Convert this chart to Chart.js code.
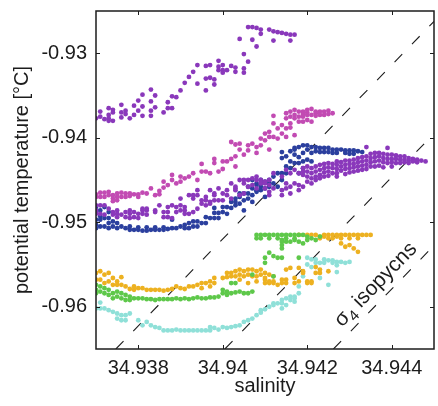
<!DOCTYPE html>
<html>
<head>
<meta charset="utf-8">
<script src="https://cdn.jsdelivr.net/npm/chart.js@4.4.0/dist/chart.umd.min.js"></script>
<style>
	html, body { margin: 0; padding: 0; background: #fff; }
	canvas { display: block; }
</style>
</head>
<body>
<canvas id="ts" width="438" height="406"></canvas>
<script>
// axis ticks
const xTicks = [34.938, 34.940, 34.942, 34.944];
const xTickLabels = ['34.938', '34.94', '34.942', '34.944'];
const yTicks = [-0.93, -0.94, -0.95, -0.96];
const yTickLabels = ['-0.93', '-0.94', '-0.95', '-0.96'];

// profiles: [salinity, [potential temperatures]]
const purpleUpper = [
	[34.9370, [-0.9377]], [34.9371, [-0.9369, -0.9375]], [34.9372, [-0.9378]],
	[34.9373, [-0.9365, -0.9373, -0.9377, -0.9380]], [34.9374, [-0.9367, -0.9370, -0.9380]],
	[34.9376, [-0.9361, -0.9370, -0.9376]], [34.9377, [-0.9368, -0.9372]], [34.9378, [-0.9377]],
	[34.9379, [-0.9362, -0.9373]], [34.9380, [-0.9356, -0.9368]], [34.9381, [-0.9349, -0.9363, -0.9374]],
	[34.9383, [-0.9343, -0.9357, -0.9368, -0.9374]], [34.9384, [-0.9350, -0.9364]], [34.9386, [-0.9370]],
	[34.9387, [-0.9358, -0.9365]], [34.9388, [-0.9351, -0.9365]], [34.9389, [-0.9352]], [34.9390, [-0.9344]],
	[34.9391, [-0.9335]], [34.9392, [-0.9328]], [34.9393, [-0.9322]], [34.9394, [-0.9314, -0.9336]],
	[34.9396, [-0.9315, -0.9330, -0.9344]], [34.9397, [-0.9314, -0.9329]], [34.9398, [-0.9331, -0.9337]],
	[34.9399, [-0.9309, -0.9316, -0.9320]], [34.9400, [-0.9314, -0.9320, -0.9323]], [34.9401, [-0.9320]],
	[34.9402, [-0.9315]], [34.9403, [-0.9317, -0.9322]], [34.9404, [-0.9283]],
	[34.9405, [-0.9301, -0.9318, -0.9323]], [34.9406, [-0.9269, -0.9310]], [34.9407, [-0.9269, -0.9284]],
	[34.9408, [-0.9270, -0.9292]], [34.9409, [-0.9272, -0.9277]], [34.9411, [-0.9272]],
	[34.9412, [-0.9274, -0.9285]], [34.9413, [-0.9275]], [34.9414, [-0.9276]], [34.9415, [-0.9277]],
	[34.9416, [-0.9278, -0.9285]], [34.9417, [-0.9278]]
];

const purpleBand = [
	[34.9370, [-0.9480, -0.9486, -0.9490]], [34.9371, [-0.9480, -0.9490]], [34.9372, [-0.9480, -0.9491]],
	[34.9373, [-0.9484]], [34.9374, [-0.9488, -0.9491]], [34.9375, [-0.9486, -0.9490, -0.9494]],
	[34.9376, [-0.9491]], [34.9377, [-0.9488, -0.9494]], [34.9378, [-0.9486, -0.9490, -0.9495]],
	[34.9379, [-0.9488, -0.9494]], [34.9380, [-0.9490, -0.9495]], [34.9381, [-0.9484, -0.9486, -0.9490]],
	[34.9382, [-0.9484, -0.9486, -0.9491]], [34.9384, [-0.9486, -0.9488]], [34.9385, [-0.9480]],
	[34.9386, [-0.9488, -0.9494]], [34.9387, [-0.9482, -0.9488, -0.9494]], [34.9388, [-0.9480, -0.9495]],
	[34.9389, [-0.9482, -0.9488]], [34.9390, [-0.9472, -0.9480, -0.9486]], [34.9391, [-0.9482, -0.9486, -0.9490]],
	[34.9392, [-0.9468, -0.9490]], [34.9393, [-0.9468, -0.9472, -0.9488]], [34.9394, [-0.9462, -0.9468, -0.9484]],
	[34.9395, [-0.9474, -0.9478]], [34.9396, [-0.9470, -0.9474, -0.9480]], [34.9397, [-0.9462, -0.9476, -0.9478]],
	[34.9398, [-0.9466, -0.9468, -0.9474]], [34.9399, [-0.9460, -0.9474]], [34.9400, [-0.9466, -0.9474]],
	[34.9401, [-0.9462, -0.9468]], [34.9402, [-0.9454, -0.9472]], [34.9403, [-0.9458, -0.9460, -0.9462]],
	[34.9404, [-0.9450, -0.9468]], [34.9405, [-0.9450, -0.9454, -0.9466]], [34.9406, [-0.9450, -0.9458]],
	[34.9407, [-0.9448, -0.9456]], [34.9408, [-0.9446, -0.9450, -0.9460]], [34.9409, [-0.9450, -0.9454]],
	[34.9410, [-0.9452, -0.9454, -0.9460]], [34.9411, [-0.9450, -0.9456, -0.9464, -0.9468]],
	[34.9412, [-0.9442, -0.9460]], [34.9414, [-0.9446, -0.9462, -0.9468]], [34.9415, [-0.9438, -0.9454, -0.9460]],
	[34.9416, [-0.9442, -0.9458, -0.9466]], [34.9417, [-0.9438, -0.9454]], [34.9418, [-0.9442, -0.9456, -0.9462]],
	[34.9419, [-0.9436, -0.9440, -0.9444, -0.9458]], [34.9420, [-0.9434, -0.9440, -0.9446, -0.9452]],
	[34.9421, [-0.9436, -0.9442, -0.9448, -0.9454]], [34.9422, [-0.9434, -0.9440, -0.9446, -0.9450]],
	[34.9423, [-0.9432, -0.9438, -0.9444, -0.9448]], [34.9424, [-0.9431, -0.9436, -0.9441, -0.9446]],
	[34.9425, [-0.9430, -0.9435, -0.9440, -0.9445]], [34.9426, [-0.9431, -0.9436, -0.9442]],
	[34.9427, [-0.9428, -0.9432, -0.9437, -0.9442, -0.9446]], [34.9428, [-0.9429, -0.9434, -0.9439]],
	[34.9429, [-0.9427, -0.9432, -0.9437, -0.9443]], [34.9430, [-0.9427, -0.9431, -0.9436, -0.9441]],
	[34.9431, [-0.9426, -0.9431, -0.9435, -0.9440]], [34.9432, [-0.9424, -0.9429, -0.9434, -0.9439]],
	[34.9433, [-0.9423, -0.9428, -0.9433, -0.9438]], [34.9434, [-0.9411, -0.9422, -0.9427, -0.9432, -0.9437]],
	[34.9435, [-0.9419, -0.9424, -0.9429, -0.9434]], [34.9436, [-0.9418, -0.9423, -0.9428, -0.9434]],
	[34.9437, [-0.9418, -0.9422, -0.9427, -0.9433]], [34.9438, [-0.9419, -0.9424, -0.9429, -0.9435]],
	[34.9439, [-0.9412, -0.9420, -0.9425, -0.9430]], [34.9440, [-0.9420, -0.9425, -0.9429, -0.9434]],
	[34.9441, [-0.9421, -0.9425, -0.9430]], [34.9442, [-0.9422, -0.9426, -0.9430]],
	[34.9443, [-0.9422, -0.9426, -0.9429]], [34.9444, [-0.9424, -0.9427, -0.9430]],
	[34.9445, [-0.9425, -0.9428]], [34.9446, [-0.9426, -0.9429]], [34.9447, [-0.9427]], [34.9448, [-0.9428]]
];

const pink = [
	[34.9370, [-0.9467, -0.9470]], [34.9371, [-0.9465, -0.9470]], [34.9372, [-0.9465, -0.9470]],
	[34.9373, [-0.9464, -0.9468]], [34.9374, [-0.9468, -0.9472, -0.9475]], [34.9375, [-0.9466, -0.9470, -0.9474]],
	[34.9376, [-0.9465, -0.9470]], [34.9377, [-0.9466, -0.9470]], [34.9378, [-0.9466, -0.9469]],
	[34.9379, [-0.9467]], [34.9380, [-0.9467, -0.9470]], [34.9381, [-0.9465]], [34.9382, [-0.9466]],
	[34.9383, [-0.9460]], [34.9384, [-0.9468]], [34.9385, [-0.9463, -0.9467]], [34.9386, [-0.9452, -0.9459]],
	[34.9387, [-0.9456]], [34.9388, [-0.9444, -0.9450]], [34.9389, [-0.9454]], [34.9390, [-0.9446, -0.9452]],
	[34.9391, [-0.9448]], [34.9392, [-0.9446]], [34.9393, [-0.9442]], [34.9394, [-0.9450]],
	[34.9395, [-0.9431, -0.9440]], [34.9396, [-0.9440]], [34.9397, [-0.9442]], [34.9398, [-0.9425, -0.9430]],
	[34.9399, [-0.9440]], [34.9400, [-0.9428, -0.9437]], [34.9401, [-0.9428]], [34.9402, [-0.9405, -0.9425]],
	[34.9403, [-0.9408, -0.9422, -0.9434]], [34.9404, [-0.9407, -0.9414]], [34.9405, [-0.9420]],
	[34.9406, [-0.9409, -0.9415]], [34.9407, [-0.9407]], [34.9408, [-0.9411, -0.9418]],
	[34.9409, [-0.9401, -0.9409]], [34.9410, [-0.9395, -0.9403]], [34.9411, [-0.9393, -0.9399, -0.9414]],
	[34.9412, [-0.9374, -0.9383, -0.9399]], [34.9413, [-0.9389, -0.9401]], [34.9414, [-0.9385, -0.9395]],
	[34.9415, [-0.9371, -0.9377, -0.9389, -0.9399]], [34.9416, [-0.9369, -0.9375, -0.9383, -0.9388]],
	[34.9417, [-0.9367, -0.9373, -0.9377, -0.9397]], [34.9418, [-0.9369, -0.9375, -0.9381]],
	[34.9419, [-0.9369, -0.9372, -0.9375, -0.9381]], [34.9420, [-0.9367, -0.9370, -0.9373, -0.9379]],
	[34.9421, [-0.9366, -0.9373, -0.9381]], [34.9422, [-0.9369, -0.9371, -0.9374]], [34.9423, [-0.9369, -0.9373]],
	[34.9424, [-0.9369, -0.9373]], [34.9425, [-0.9368, -0.9372]], [34.9426, [-0.9371]]
];

const blue = [
	[34.9370, [-0.9482, -0.9489, -0.9497, -0.9503, -0.9507]], [34.9371, [-0.9486, -0.9493, -0.9497, -0.9505]],
	[34.9372, [-0.9482, -0.9495, -0.9505]], [34.9373, [-0.9488, -0.9495, -0.9501, -0.9507]],
	[34.9374, [-0.9499, -0.9505]], [34.9375, [-0.9501, -0.9507]], [34.9376, [-0.9505]], [34.9377, [-0.9507]],
	[34.9378, [-0.9505, -0.9509]], [34.9379, [-0.9509]], [34.9380, [-0.9506, -0.9509]], [34.9381, [-0.9510]],
	[34.9382, [-0.9506, -0.9510]], [34.9383, [-0.9509]], [34.9384, [-0.9506, -0.9509]], [34.9385, [-0.9509]],
	[34.9386, [-0.9506, -0.9509]], [34.9387, [-0.9508]], [34.9388, [-0.9497, -0.9507]], [34.9389, [-0.9507]],
	[34.9390, [-0.9505]], [34.9391, [-0.9503, -0.9507]], [34.9392, [-0.9501, -0.9507]],
	[34.9393, [-0.9499, -0.9505]], [34.9394, [-0.9499, -0.9505]], [34.9395, [-0.9501]],
	[34.9396, [-0.9494, -0.9501]], [34.9397, [-0.9495]], [34.9398, [-0.9483, -0.9489, -0.9495]],
	[34.9399, [-0.9489, -0.9495]], [34.9400, [-0.9482, -0.9488]], [34.9401, [-0.9482, -0.9490]],
	[34.9402, [-0.9476, -0.9483]], [34.9403, [-0.9472, -0.9476, -0.9480]], [34.9404, [-0.9466, -0.9470, -0.9478]],
	[34.9405, [-0.9466, -0.9474, -0.9486]], [34.9406, [-0.9458, -0.9466, -0.9472]],
	[34.9407, [-0.9450, -0.9460, -0.9468, -0.9476]], [34.9408, [-0.9454, -0.9456, -0.9462, -0.9464]],
	[34.9409, [-0.9450, -0.9454, -0.9458, -0.9462]], [34.9410, [-0.9452, -0.9460, -0.9470]],
	[34.9411, [-0.9450, -0.9454, -0.9458]], [34.9412, [-0.9446, -0.9454]], [34.9413, [-0.9442, -0.9458]],
	[34.9414, [-0.9417, -0.9424, -0.9442, -0.9450]], [34.9415, [-0.9422, -0.9434, -0.9442]],
	[34.9416, [-0.9416, -0.9428, -0.9436]], [34.9417, [-0.9412, -0.9414, -0.9420, -0.9430]],
	[34.9418, [-0.9411, -0.9423, -0.9430, -0.9442]], [34.9419, [-0.9409, -0.9418, -0.9428, -0.9436]],
	[34.9420, [-0.9409, -0.9414, -0.9426]], [34.9421, [-0.9411, -0.9418, -0.9428]],
	[34.9422, [-0.9411, -0.9416]], [34.9423, [-0.9412, -0.9417]], [34.9424, [-0.9412, -0.9417]],
	[34.9425, [-0.9412, -0.9417]], [34.9426, [-0.9414, -0.9418]], [34.9427, [-0.9414, -0.9418]],
	[34.9428, [-0.9414]], [34.9429, [-0.9415, -0.9418]], [34.9430, [-0.9415, -0.9419]],
	[34.9431, [-0.9415, -0.9419]], [34.9432, [-0.9416]], [34.9433, [-0.9417]]
];

const green = [
	[34.9370, [-0.9574, -0.9580, -0.9584]], [34.9371, [-0.9576, -0.9582]], [34.9372, [-0.9578, -0.9584]],
	[34.9373, [-0.9580, -0.9586]], [34.9374, [-0.9584, -0.9590]], [34.9375, [-0.9582, -0.9588]],
	[34.9376, [-0.9584, -0.9590]], [34.9377, [-0.9586, -0.9592]], [34.9378, [-0.9588, -0.9592]],
	[34.9379, [-0.9590]], [34.9380, [-0.9590]], [34.9381, [-0.9590]], [34.9382, [-0.9591]], [34.9383, [-0.9591]],
	[34.9384, [-0.9592]], [34.9385, [-0.9591]], [34.9386, [-0.9591]], [34.9387, [-0.9591]], [34.9388, [-0.9591]],
	[34.9389, [-0.9590]], [34.9390, [-0.9591]], [34.9391, [-0.9590]], [34.9392, [-0.9591]], [34.9393, [-0.9590]],
	[34.9394, [-0.9589]], [34.9395, [-0.9590]], [34.9396, [-0.9590]], [34.9397, [-0.9589]], [34.9398, [-0.9589]],
	[34.9399, [-0.9588]], [34.9400, [-0.9580, -0.9584]], [34.9401, [-0.9582, -0.9586]],
	[34.9402, [-0.9572, -0.9584]], [34.9403, [-0.9572, -0.9583]], [34.9404, [-0.9582]], [34.9405, [-0.9584]],
	[34.9406, [-0.9584]], [34.9407, [-0.9562, -0.9582]], [34.9408, [-0.9515, -0.9519]], [34.9409, [-0.9515, -0.9519]],
	[34.9410, [-0.9515, -0.9542, -0.9548]], [34.9411, [-0.9515, -0.9519, -0.9536]],
	[34.9412, [-0.9515, -0.9540, -0.9564]], [34.9413, [-0.9515, -0.9519, -0.9542]],
	[34.9414, [-0.9515, -0.9521, -0.9523, -0.9527, -0.9531, -0.9542]], [34.9415, [-0.9515, -0.9519, -0.9523]],
	[34.9416, [-0.9515, -0.9523]], [34.9417, [-0.9515, -0.9519, -0.9521]], [34.9418, [-0.9515, -0.9523, -0.9542]],
	[34.9419, [-0.9515, -0.9525]], [34.9420, [-0.9517, -0.9521]], [34.9421, [-0.9519]], [34.9422, [-0.9521]],
	[34.9423, [-0.9517]]
];

const orange = [
	[34.9370, [-0.9560, -0.9568]], [34.9371, [-0.9558, -0.9568]], [34.9372, [-0.9562, -0.9572]],
	[34.9373, [-0.9560, -0.9570]], [34.9374, [-0.9566, -0.9574]], [34.9375, [-0.9570, -0.9574]],
	[34.9376, [-0.9565, -0.9574]], [34.9377, [-0.9576]], [34.9378, [-0.9579]], [34.9379, [-0.9576, -0.9580]],
	[34.9380, [-0.9578]], [34.9381, [-0.9578]], [34.9382, [-0.9580]], [34.9383, [-0.9580]], [34.9384, [-0.9580]],
	[34.9385, [-0.9580]], [34.9386, [-0.9581]], [34.9387, [-0.9580]], [34.9388, [-0.9579]], [34.9389, [-0.9576]],
	[34.9390, [-0.9578]], [34.9391, [-0.9579]], [34.9392, [-0.9576]], [34.9393, [-0.9576]], [34.9394, [-0.9574]],
	[34.9395, [-0.9572, -0.9578]], [34.9396, [-0.9572]], [34.9397, [-0.9570, -0.9576]], [34.9398, [-0.9566, -0.9572]],
	[34.9400, [-0.9566]], [34.9401, [-0.9560, -0.9565]], [34.9402, [-0.9560, -0.9564]],
	[34.9403, [-0.9558, -0.9564]], [34.9404, [-0.9556, -0.9562, -0.9568]], [34.9405, [-0.9558, -0.9564]],
	[34.9406, [-0.9556, -0.9562, -0.9572]], [34.9407, [-0.9556, -0.9564]], [34.9408, [-0.9558, -0.9564, -0.9570]],
	[34.9409, [-0.9556, -0.9562]], [34.9410, [-0.9560, -0.9566, -0.9568, -0.9572]],
	[34.9411, [-0.9562, -0.9570, -0.9572]], [34.9412, [-0.9564, -0.9570, -0.9572]], [34.9413, [-0.9574]],
	[34.9414, [-0.9568, -0.9572]], [34.9415, [-0.9556, -0.9568, -0.9572]], [34.9416, [-0.9554]],
	[34.9417, [-0.9566, -0.9572]], [34.9418, [-0.9515, -0.9554, -0.9570]], [34.9419, [-0.9558, -0.9560]],
	[34.9420, [-0.9515, -0.9570, -0.9572]], [34.9421, [-0.9515, -0.9570, -0.9572]],
	[34.9422, [-0.9515, -0.9553, -0.9560]], [34.9423, [-0.9517, -0.9519, -0.9556, -0.9560]],
	[34.9424, [-0.9515, -0.9517]], [34.9425, [-0.9515, -0.9519, -0.9558]], [34.9426, [-0.9515, -0.9519]],
	[34.9427, [-0.9515, -0.9517]], [34.9428, [-0.9515, -0.9519, -0.9525]], [34.9429, [-0.9515, -0.9529]],
	[34.9430, [-0.9515, -0.9519, -0.9527]], [34.9431, [-0.9515, -0.9531]], [34.9432, [-0.9515, -0.9519, -0.9535]],
	[34.9433, [-0.9515]], [34.9434, [-0.9515]], [34.9435, [-0.9515]]
];

const cyan = [
	[34.9370, [-0.9602]], [34.9371, [-0.9595, -0.9602]], [34.9372, [-0.9602]], [34.9373, [-0.9604]],
	[34.9374, [-0.9606]], [34.9375, [-0.9608, -0.9614]], [34.9376, [-0.9610, -0.9616]], [34.9377, [-0.9610, -0.9616]],
	[34.9378, [-0.9608]], [34.9380, [-0.9616]], [34.9381, [-0.9622]], [34.9382, [-0.9618]], [34.9383, [-0.9622]],
	[34.9384, [-0.9624]], [34.9385, [-0.9625]], [34.9386, [-0.9628]], [34.9387, [-0.9628]], [34.9388, [-0.9628]],
	[34.9389, [-0.9627]], [34.9390, [-0.9628]], [34.9391, [-0.9628]], [34.9392, [-0.9628]], [34.9393, [-0.9628]],
	[34.9394, [-0.9628]], [34.9395, [-0.9628]], [34.9396, [-0.9628]], [34.9397, [-0.9624, -0.9628]],
	[34.9398, [-0.9625]], [34.9399, [-0.9627]], [34.9400, [-0.9624]], [34.9401, [-0.9625]], [34.9402, [-0.9624]],
	[34.9403, [-0.9623]], [34.9404, [-0.9622]], [34.9405, [-0.9618]], [34.9406, [-0.9616]], [34.9407, [-0.9614]],
	[34.9408, [-0.9610]], [34.9409, [-0.9604, -0.9607]], [34.9410, [-0.9603]], [34.9411, [-0.9600]],
	[34.9412, [-0.9596, -0.9598]], [34.9413, [-0.9596]], [34.9414, [-0.9592, -0.9596, -0.9602]],
	[34.9415, [-0.9590, -0.9598]], [34.9416, [-0.9588, -0.9592]], [34.9417, [-0.9588, -0.9590, -0.9594]],
	[34.9418, [-0.9576, -0.9584]], [34.9419, [-0.9564]], [34.9420, [-0.9542, -0.9550]],
	[34.9421, [-0.9544, -0.9553]], [34.9422, [-0.9544, -0.9548]], [34.9423, [-0.9548, -0.9566]],
	[34.9424, [-0.9544, -0.9548]], [34.9425, [-0.9545, -0.9574]], [34.9426, [-0.9545, -0.9548]],
	[34.9427, [-0.9547, -0.9551, -0.9559]], [34.9428, [-0.9547]], [34.9429, [-0.9548]], [34.9430, [-0.9547]]
];

// sigma-4 isopycnals, end points [salinity, temperature]
const isopycnals = [
	[[34.93747, -0.965], [34.945, -0.92624]],
	[[34.94005, -0.965], [34.945, -0.93952]],
	[[34.94262, -0.965], [34.945, -0.95275]]
];
const isoLabelAt = [34.9436, -0.9573];

const inkColor = '#1c1c1c';
Chart.defaults.font.family = '"Liberation Sans", Arial, Helvetica, sans-serif';
Chart.defaults.color = inkColor;

const toPoints = cols => cols.flatMap(([s, ts]) => ts.map(t => ({x: s, y: t})));

const dotSet = (cols, color) => ({
	type: 'scatter',
	data: toPoints(cols),
	backgroundColor: color,
	borderWidth: 0,
	pointRadius: 2.4,
	pointHoverRadius: 2.4,
	clip: 0
});

const isoSet = ends => ({
	type: 'line',
	data: ends.map(([x, y]) => ({x, y})),
	borderColor: inkColor,
	borderWidth: 1.1,
	borderDash: [11, 14],
	pointRadius: 0,
	fill: false,
	clip: 0
});

// fixed axis boxes, no auto padding from tick labels
const fixBox = size => s => {
	if (s.isHorizontal()) s.height = size; else s.width = size;
	s.paddingTop = 0; s.paddingBottom = 0; s.paddingLeft = 0; s.paddingRight = 0;
};

// frame, inward ticks and the isopycnal label
const framePlugin = {
	id: 'frame',
	afterDraw(chart) {
		const {ctx, chartArea: a, scales: {x, y}} = chart;
		const tl = 4;
		ctx.save();
		ctx.strokeStyle = inkColor;
		ctx.lineWidth = 1;
		ctx.beginPath();
		xTicks.forEach(v => {
			const px = Math.round(x.getPixelForValue(v)) + 0.5;
			ctx.moveTo(px, a.bottom); ctx.lineTo(px, a.bottom - tl);
			ctx.moveTo(px, a.top); ctx.lineTo(px, a.top + tl);
		});
		yTicks.forEach(v => {
			const py = Math.round(y.getPixelForValue(v)) + 0.5;
			ctx.moveTo(a.left, py); ctx.lineTo(a.left + tl, py);
			ctx.moveTo(a.right, py); ctx.lineTo(a.right - tl, py);
		});
		ctx.stroke();
		ctx.lineWidth = 1.5;
		ctx.strokeRect(a.left, a.top, a.right - a.left, a.bottom - a.top);

		// label along the isopycnals
		const [p0, p1] = isopycnals[2];
		const ang = Math.atan2(y.getPixelForValue(p1[1]) - y.getPixelForValue(p0[1]),
			x.getPixelForValue(p1[0]) - x.getPixelForValue(p0[0]));
		ctx.translate(x.getPixelForValue(isoLabelAt[0]), y.getPixelForValue(isoLabelAt[1]));
		ctx.rotate(ang);
		ctx.fillStyle = inkColor;
		ctx.textBaseline = 'alphabetic';
		const big = '21px "Liberation Sans", Arial, sans-serif';
		const small = '15px "Liberation Sans", Arial, sans-serif';
		ctx.font = big;
		const wSig = ctx.measureText('\u03c3').width;
		const wRest = ctx.measureText(' isopycns').width;
		ctx.font = small;
		const wSub = ctx.measureText('4').width;
		let cx = -(wSig + wSub + wRest) / 2;
		const base = 7;
		ctx.font = big;
		ctx.fillText('\u03c3', cx, base);
		cx += wSig;
		ctx.font = small;
		ctx.fillText('4', cx, base + 5);
		cx += wSub;
		ctx.font = big;
		ctx.fillText(' isopycns', cx, base);
		ctx.restore();
	}
};

new Chart(document.getElementById('ts'), {
	type: 'scatter',
	data: {
		datasets: [
			dotSet(pink, '#c24bb3'),
			dotSet(purpleUpper, '#8a38bb'),
			dotSet(purpleBand, '#8a38bb'),
			dotSet(blue, '#2b3f9e'),
			dotSet(green, '#5ec84a'),
			dotSet(orange, '#edb120'),
			dotSet(cyan, '#8fe0d8'),
			...isopycnals.map(isoSet)
		]
	},
	options: {
		responsive: false,
		animation: false,
		events: [],
		layout: {padding: {top: 11, right: 4, left: 0, bottom: 0}},
		plugins: {legend: {display: false}, tooltip: {enabled: false}},
		scales: {
			x: {
				type: 'linear',
				min: 34.937,
				max: 34.945,
				afterBuildTicks: s => { s.ticks = xTicks.map(v => ({value: v})); },
				afterFit: fixBox(57),
				grid: {display: false, drawTicks: false},
				border: {display: false},
				ticks: {
					font: {size: 20, lineHeight: 1.2},
					padding: 7,
					maxRotation: 0,
					autoSkip: false,
					callback: (v, i) => xTickLabels[i]
				},
				title: {display: true, text: 'salinity', font: {size: 20, lineHeight: 1}, padding: {top: 0, bottom: 10}}
			},
			y: {
				type: 'linear',
				min: -0.965,
				max: -0.925,
				afterBuildTicks: s => { s.ticks = yTicks.map(v => ({value: v})); },
				afterFit: fixBox(96),
				grid: {display: false, drawTicks: false},
				border: {display: false},
				ticks: {
					font: {size: 20, lineHeight: 1.2},
					padding: 9,
					autoSkip: false,
					callback: (v, i) => yTickLabels[i]
				},
				title: {display: true, text: 'potential temperature [°C]', font: {size: 20, lineHeight: 1}, padding: {top: 12, bottom: 0}}
			}
		}
	},
	plugins: [framePlugin]
});
</script>
</body>
</html>
